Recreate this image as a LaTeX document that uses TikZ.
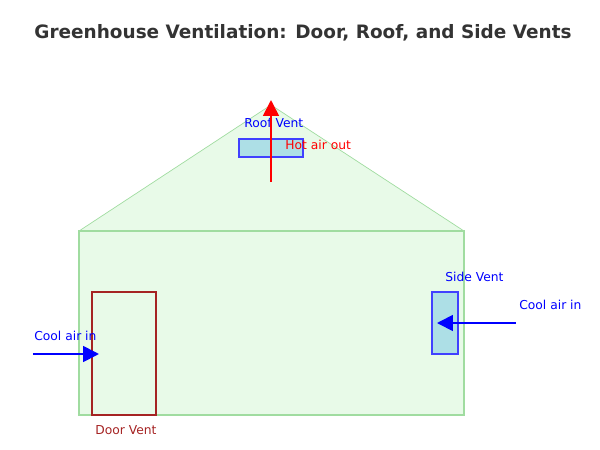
\documentclass[tikz,border=0pt]{standalone}
\usepackage{fontspec}
\setmainfont{DejaVu Sans}
\usetikzlibrary{arrows.meta,positioning}
\definecolor{wallgreen}{RGB}{232,250,232}
\definecolor{edgegreen}{RGB}{160,220,160}
\definecolor{ventblue}{RGB}{173,223,230}
\definecolor{titlegray}{RGB}{51,51,51}
\definecolor{doorred}{RGB}{165,35,35}
\tikzset{
  vent/.style={draw=blue!75, fill=ventblue, line width=1pt},
  flow/.style={-{Triangle[length=9pt,width=9pt]}, line width=1pt},
  lbl/.style={font=\fontsize{7}{8}\selectfont, anchor=west, inner sep=0pt}
}
\begin{document}
\begin{tikzpicture}[x=0.02cm,y=-0.02cm]
    % Frame
    \useasboundingbox (0,0) rectangle (600,450);
    
    % Title
    \node[font=\bfseries\fontsize{10.5}{12}\selectfont, text=titlegray] (title) at (303,33) {Greenhouse Ventilation: Door, Roof, and Side Vents};
    
    % Greenhouse body and roof
    \fill[wallgreen] (79,231) -- (271,105) -- (464,231) -- cycle;
    \draw[edgegreen, thin] (79,231) -- (271,105) -- (464,231);
    \draw[edgegreen, fill=wallgreen, line width=1.2pt] (79,231) rectangle (464,415);
    
    % Door
    \draw[doorred, line width=1pt] (92,292) rectangle (156,415);
    \node[lbl, text=doorred] (doorlbl) at (95,430) {Door Vent};
    
    % Roof vent
    \draw[vent] (239,139) rectangle (303,157);
    \node[lbl, text=blue] (rooflbl) at (244,123) {Roof Vent};
    \coordinate (hotstart) at (271,182);
    \coordinate (hotend) at (271,100);
    \draw[flow, red] (hotstart) -- (hotend);
    \node[lbl, text=red] (hotlbl) at (285,145) {Hot air out};
    
    % Side vent
    \draw[vent] (432,292) rectangle (458,354);
    \node[lbl, text=blue] (sidelbl) at (445,277) {Side Vent};
    \coordinate (sidestart) at (516,323);
    \coordinate (sideend) at (437,323);
    \draw[flow, blue] (sidestart) -- (sideend);
    \node[lbl, text=blue] (sidein) at (519,305) {Cool air in};
    
    % Door inflow
    \coordinate (doorstart) at (33,354);
    \coordinate (doorend) at (99,354);
    \draw[flow, blue] (doorstart) -- (doorend);
    \node[lbl, text=blue] (doorin) at (34,336) {Cool air in};
\end{tikzpicture}
\end{document}
